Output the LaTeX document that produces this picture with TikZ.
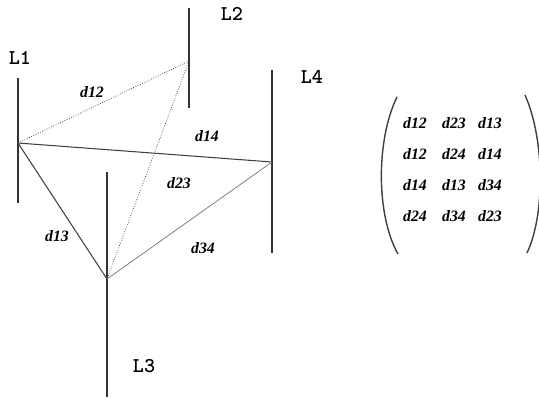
\documentclass[tikz,border=0pt]{standalone}
\usepackage{fontspec}
\setmainfont{Liberation Serif}
\usetikzlibrary{positioning}

\begin{document}
\begin{tikzpicture}[
  x=0.02cm, y=-0.02cm,
  pole/.style={line width=0.9pt, draw=black!80},
  near/.style={thin, densely dotted, draw=black!80},
  link/.style={line width=0.6pt, draw=black!75},
  faint/.style={line width=0.4pt, draw=black!55},
  lname/.style={font=\ttfamily\bfseries\large},
  dist/.style={font=\small\bfseries\itshape, inner sep=1pt},
  paren/.style={line width=0.8pt, draw=black!75}
]
\useasboundingbox (0,0) rectangle (539,397);

% the four poles
\coordinate (l1top) at (18,78);  \coordinate (l1bot) at (18,203);
\coordinate (l2top) at (189,8);  \coordinate (l2bot) at (189,108);
\coordinate (l3top) at (107,172); \coordinate (l3bot) at (107,397);
\coordinate (l4top) at (272,70); \coordinate (l4bot) at (272,253);
\draw[pole] (l1top) -- (l1bot);
\draw[pole] (l2top) -- (l2bot);
\draw[pole] (l3top) -- (l3bot);
\draw[pole] (l4top) -- (l4bot);

\coordinate (p1) at (18,143);
\coordinate (p2) at (189,61);
\coordinate (p3) at (107,279);
\coordinate (p4) at (272,162);

\node[lname] (n1) at (20,58) {L1};
\node[lname] (n2) at (232,14) {L2};
\node[lname] (n3) at (144,366) {L3};
\node[lname] (n4) at (312,77) {L4};

\draw[near] (p1) -- (p2);
\draw[near] (p2) -- (p3);
\draw[link] (p1) -- (p4);
\draw[link] (p1) -- (p3);
\draw[faint] (p3) -- (p4);

\node[dist] (d12) at (92,92) {d12};
\node[dist] (d14) at (207,136) {d14};
\node[dist] (d23) at (179,183) {d23};
\node[dist] (d13) at (57,236) {d13};
\node[dist] (d34) at (203,248) {d34};

% distance matrix
\node[dist] (m11) at (415,123) {d12};
\node[dist] (m12) at (454,123) {d23};
\node[dist] (m13) at (490,123) {d13};
\node[dist] (m21) at (415,154) {d12};
\node[dist] (m22) at (454,154) {d24};
\node[dist] (m23) at (490,154) {d14};
\node[dist] (m31) at (415,185) {d14};
\node[dist] (m32) at (454,185) {d13};
\node[dist] (m33) at (490,185) {d34};
\node[dist] (m41) at (415,216) {d24};
\node[dist] (m42) at (454,216) {d34};
\node[dist] (m43) at (490,216) {d23};

\draw[paren] (397,97) .. controls (376,140) and (376,215) .. (398,254);
\draw[paren] (525,95) .. controls (545,140) and (545,215) .. (527,253);
\end{tikzpicture}
\end{document}
